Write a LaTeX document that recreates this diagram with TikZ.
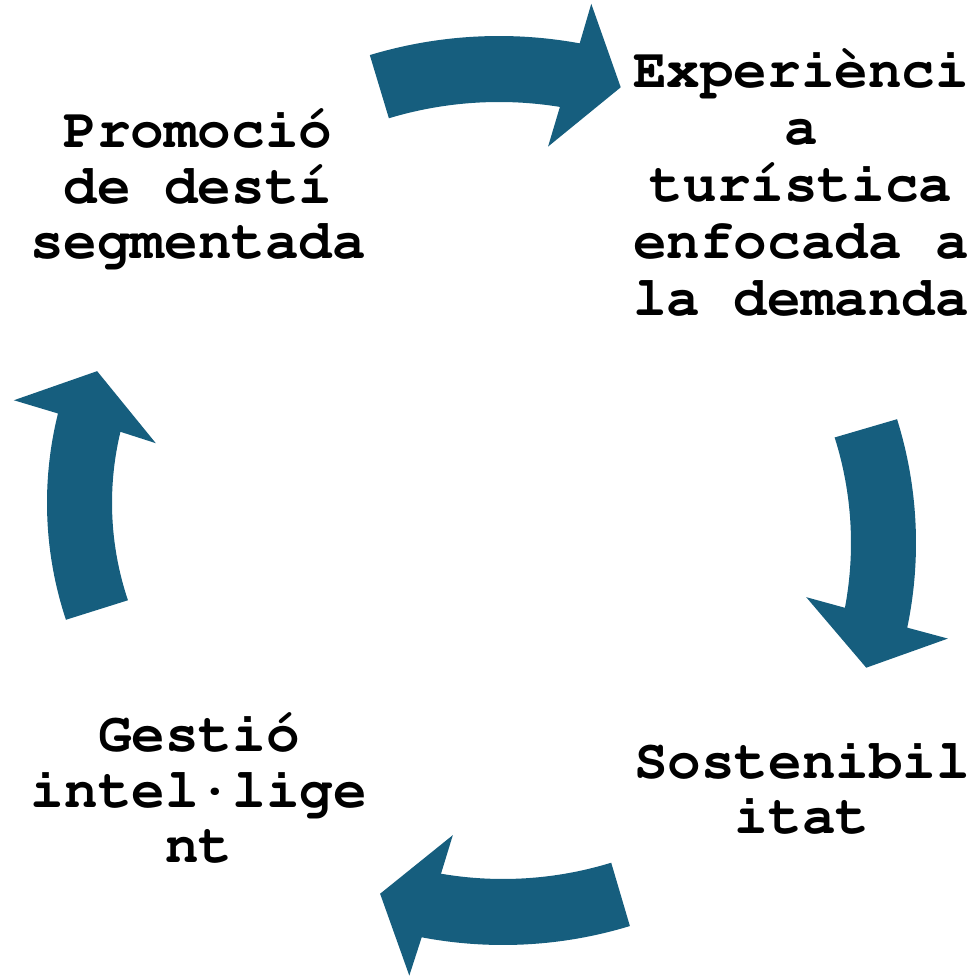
\documentclass[tikz,border=0pt]{standalone}
\usepackage[T1]{fontenc}
\usepackage{tikz}
\definecolor{cycleblue}{RGB}{22,94,126}

\begin{document}
\begin{tikzpicture}[x=1pt,y=1pt,
  stage/.style={inner sep=0pt, anchor=base, align=center,
    font=\fontfamily{pcr}\fontseries{b}\fontsize{56}{55.5}\selectfont},
  cyclearrow/.style={fill=cycleblue}]
\useasboundingbox (0,0) rectangle (977,977);

% labels (anchored on the baseline of the last line)
\node[stage] (promo) at (198,718) {Promoció\\de destí\\segmentada};
\node[stage, font=\fontfamily{pcr}\fontseries{b}\fontsize{56}{57}\selectfont]
  (exper) at (801,661) {Experiènci\\a\\turística\\enfocada a\\la demanda};
\node[stage] (soste) at (802,143) {Sostenibil\\itat};
\node[stage] (gesti) at (199,114) {Gestió\\intel\textperiodcentered lige\\nt};

% arc centres
\coordinate (ctop) at (499,494);
\coordinate (cright) at (502,434);
\coordinate (cbot) at (503,466);
\coordinate (cleft) at (417,474);

% curved arrows
\fill[cyclearrow] ([shift={(106.8:447)}]ctop) arc[start angle=106.8, end angle=79.6, radius=447]
  -- ([shift={(79.1:488)}]ctop) -- ([shift={(72.9:414)}]ctop) -- ([shift={(81.7:340)}]ctop)
  -- ([shift={(80.8:381)}]ctop) arc[start angle=80.8, end angle=106.8, radius=381] -- cycle;
\fill[cyclearrow] ([shift={(17.4:414)}]cright) arc[start angle=17.4, end angle=-11.8, radius=414]
  -- ([shift={(-12.1:456)}]cright) -- ([shift={(-18.9:385)}]cright) -- ([shift={(-10.1:309)}]cright)
  -- ([shift={(-10.7:349)}]cright) arc[start angle=-10.7, end angle=17.6, radius=349] -- cycle;
\fill[cyclearrow] ([shift={(-73:434)}]cbot) arc[start angle=-73, end angle=-100.8, radius=434]
  -- ([shift={(-101.4:474)}]cbot) -- ([shift={(-107.8:402)}]cbot) -- ([shift={(-98.8:328)}]cbot)
  -- ([shift={(-99.7:368)}]cbot) arc[start angle=-99.7, end angle=-72.9, radius=368] -- cycle;
\fill[cyclearrow] ([shift={(198.4:370)}]cleft) arc[start angle=198.4, end angle=166, radius=370]
  -- ([shift={(165.7:416)}]cleft) -- ([shift={(157.6:346)}]cleft) -- ([shift={(167.1:268)}]cleft)
  -- ([shift={(166.5:305)}]cleft) arc[start angle=166.5, end angle=198.6, radius=305] -- cycle;
\end{tikzpicture}
\end{document}
